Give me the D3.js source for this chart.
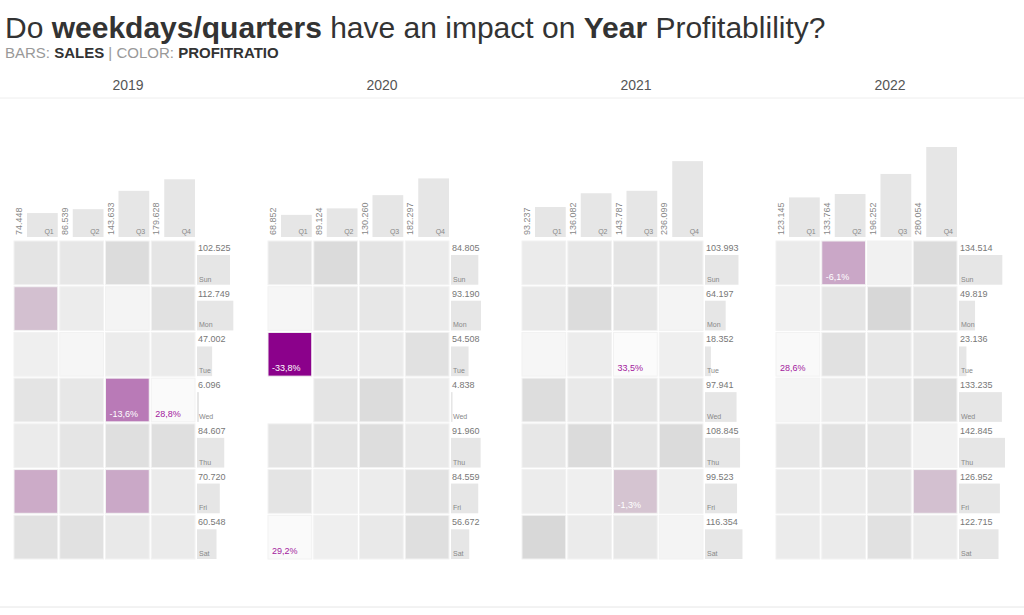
<!DOCTYPE html>
<html><head><meta charset="utf-8">
<script src="https://cdn.jsdelivr.net/npm/d3@7"></script>
<style>body{margin:0;background:#fff}svg text{font-family:"Liberation Sans",Arial,sans-serif}</style>
</head><body><svg id="chart" width="1024" height="615"></svg>
<script>
const years = ["2019", "2020", "2021", "2022"];
const quarters = ["Q1", "Q2", "Q3", "Q4"];
const days = ["Sun", "Mon", "Tue", "Wed", "Thu", "Fri", "Sat"];

// sales per quarter (thousands)
const quarterSales = {
  "2019": [74.448, 86.539, 143.633, 179.628],
  "2020": [68.852, 89.124, 130.260, 182.297],
  "2021": [93.237, 136.082, 143.787, 236.099],
  "2022": [123.145, 133.764, 196.252, 280.054]
};
// sales per weekday
const daySales = {
  "2019": [102.525, 112.749, 47.002, 6.096, 84.607, 70.720, 60.548],
  "2020": [84.805, 93.190, 54.508, 4.838, 91.960, 84.559, 56.672],
  "2021": [103.993, 64.197, 18.352, 97.941, 108.845, 99.523, 116.354],
  "2022": [134.514, 49.819, 23.136, 133.235, 142.845, 126.952, 122.715]
};
// profit ratio (%) per weekday (rows) x quarter (cols)
const profitRatio = {
  "2019": [[11, 14, 5, 12], [-2, 18, 24, 9], [20, 26, 18, 17], [11, 14, -13.6, 28.8], [17, 12, 7, 7], [-5.5, 14, -6, 17], [9, 9, 15, 17]],
  "2020": [[11, 4, 11, 17], [26, 14, 14, 17], [-33.8, 18, 17, 9], [null, 11, 5, 17], [11, 11, 6, 15], [11, 20, 18, 10], [29.2, 20, 15, 7]],
  "2021": [[17, 14, 11, 14], [15, 5, 12, 24], [26, 18, 33.5, 20], [6, 15, 12, 12], [14, 4, 12, 4], [18, 20, -1.3, 20], [2, 17, 14, 24]],
  "2022": [[17, -6.1, 22, 5], [22, 12, 1, 12], [28.6, 9, 14, 14], [24, 17, 14, 6], [14, 10, 12, 22], [17, 17, 12, -2], [17, 17, 9, 17]]
};

const svg = d3.select("#chart");
const fmt = v => d3.format(".3f")(v);
const pct = v => d3.format(".1f")(v).replace(".", ",").replace("\u2212", "-") + "%";

// titles
const t = svg.append("text").attr("x", 5).attr("y", 38).attr("font-size", 30).attr("fill", "#333");
[["Do ", 400], ["weekdays/quarters", 700], [" have an impact on ", 400], ["Year", 700], [" Profitablility?", 400]]
  .forEach(([s, w]) => t.append("tspan").attr("font-weight", w).text(s));
const st = svg.append("text").attr("x", 5).attr("y", 58).attr("font-size", 15).attr("fill", "#999");
[["BARS: ", 400, "#999"], ["SALES", 700, "#333"], [" | COLOR: ", 400, "#999"], ["PROFITRATIO", 700, "#333"]]
  .forEach(([s, w, c]) => st.append("tspan").attr("font-weight", w).attr("fill", c).text(s));
svg.append("line").attr("x1", 0).attr("x2", 1024).attr("y1", 98).attr("y2", 98).attr("stroke", "#eee");
svg.append("line").attr("x1", 0).attr("x2", 1024).attr("y1", 607).attr("y2", 607).attr("stroke", "#e6e6e6");

// colour for profit ratio
const negColor = d3.scaleLinear().domain([-34, 0]).range(["#8b008b", "#d8ccd4"]).clamp(true);
const posColor = d3.scaleLinear().domain([0, 30]).range(["#d6d6d6", "#fbfbfb"]).clamp(true);
const color = v => v < 0 ? negColor(v) : posColor(v);

const panelX = d3.scaleBand().domain(years).range([13, 13 + 254 * 4]);
const gridTop = 240, gridH = 320, gridW = 183;
const col = d3.scaleBand().domain(quarters).range([0, gridW]);
const row = d3.scaleBand().domain(days).range([0, gridH]);
const qMax = d3.max(years, y => d3.max(quarterSales[y]));
const dMax = d3.max(years, y => d3.max(daySales[y]));
const qH = d3.scaleLinear().domain([0, qMax]).range([0, 90]);
const dW = d3.scaleLinear().domain([0, dMax]).range([0, 46]);

years.forEach(y => {
  const g = svg.append("g").attr("transform", `translate(${panelX(y)},0)`);
  g.append("text").attr("x", 115).attr("y", 90).attr("text-anchor", "middle")
    .attr("font-size", 14).attr("fill", "#555").text(y);

  // quarter bars
  quarters.forEach((q, i) => {
    const v = quarterSales[y][i], x = col(q);
    g.append("rect").attr("x", x + 14).attr("y", gridTop - 3 - qH(v)).attr("width", col.bandwidth() - 15)
      .attr("height", qH(v)).attr("fill", "#e6e6e6");
    g.append("text").attr("x", x + col.bandwidth() - 5).attr("y", gridTop - 6).attr("text-anchor", "end")
      .attr("font-size", 7).attr("fill", "#888").text(q);
    g.append("text").attr("transform", `translate(${x + 9},${gridTop - 5}) rotate(-90)`)
      .attr("font-size", 9).attr("fill", "#888").text(fmt(v));
  });

  // heatmap cells
  const vals = profitRatio[y];
  const flat = vals.flat().filter(v => v !== null);
  const lo = d3.min(flat), hi = d3.max(flat);
  days.forEach((d, r) => {
    quarters.forEach((q, c) => {
      const v = vals[r][c];
      if (v === null) return;
      const x = col(q), yy = gridTop + row(d);
      g.append("rect").attr("x", x + 1).attr("y", yy + 1).attr("width", col.bandwidth() - 2)
        .attr("height", row.bandwidth() - 2).attr("fill", color(v)).attr("stroke", "#f2f2f2").attr("stroke-width", 1);
      if (v === lo || v === hi) {
        g.append("text").attr("x", x + 5).attr("y", yy + row.bandwidth() - 6).attr("font-size", 9)
          .attr("fill", v < 0 ? "#fff" : "#a3189d").text(pct(v));
      }
    });
    // weekday bars
    const v = daySales[y][r], yy = gridTop + row(d);
    g.append("rect").attr("x", gridW + 1).attr("y", yy + 15).attr("width", Math.max(1, dW(v)))
      .attr("height", row.bandwidth() - 16).attr("fill", "#e6e6e6");
    g.append("text").attr("x", gridW + 2).attr("y", yy + 11).attr("font-size", 9).attr("fill", "#777").text(fmt(v));
    g.append("text").attr("x", gridW + 3).attr("y", yy + row.bandwidth() - 4).attr("font-size", 7).attr("fill", "#888").text(d);
  });
});
</script></body></html>
